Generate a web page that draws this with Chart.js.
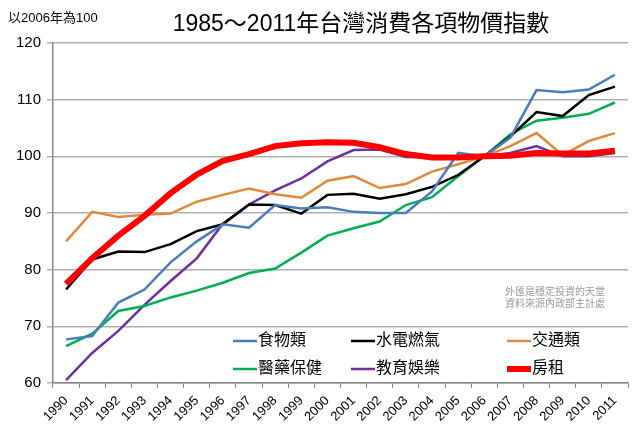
<!DOCTYPE html>
<html>
<head>
<meta charset="utf-8">
<script src="https://cdn.jsdelivr.net/npm/chart.js@4.4.1/dist/chart.umd.min.js"></script>
<style>
  html, body { margin: 0; padding: 0; background: #fff; }
  #wrap { position: relative; width: 640px; height: 429px; }
</style>
</head>
<body>
<div id="wrap"><canvas id="c" width="640" height="429"></canvas></div>
<script>
const years = ['1990','1991','1992','1993','1994','1995','1996','1997','1998','1999','2000',
    '2001','2002','2003','2004','2005','2006','2007','2008','2009','2010','2011'];

const food = [67.7, 68.3, 74.2, 76.5, 81.3, 85.0, 88.0, 87.4, 91.4, 90.8, 91.0,
    90.2, 90.0, 90.0, 93.8, 100.6, 100.0, 103.3, 111.7, 111.3, 111.8, 114.4];
const utilities = [76.5, 81.8, 83.2, 83.1, 84.5, 86.8, 88.0, 91.5, 91.4, 89.9, 93.2,
    93.4, 92.5, 93.3, 94.6, 96.7, 100.0, 103.5, 107.8, 107.1, 110.8, 112.3];
const transport = [85.0, 90.2, 89.3, 89.7, 89.9, 92.0, 93.2, 94.3, 93.3, 92.7, 95.7,
    96.5, 94.4, 95.1, 97.3, 98.6, 100.0, 101.8, 104.1, 100.2, 102.7, 104.1];
const medical = [66.5, 68.7, 72.7, 73.6, 75.1, 76.3, 77.7, 79.4, 80.2, 83.0, 86.0,
    87.3, 88.5, 91.4, 92.8, 96.5, 100.0, 103.9, 106.3, 106.8, 107.5, 109.5];
const education = [60.5, 65.3, 69.2, 73.8, 78.0, 82.0, 88.1, 91.5, 94.0, 96.1, 99.1,
    101.1, 101.2, 99.9, 99.8, 99.8, 100.0, 100.6, 101.8, 100.0, 100.0, 100.6];
const rent = [77.5, 82.0, 86.0, 89.5, 93.5, 96.8, 99.2, 100.4, 101.8, 102.3, 102.5,
    102.4, 101.6, 100.4, 99.8, 99.8, 100.0, 100.1, 100.6, 100.5, 100.5, 101.0];

const seriesNames = ['食物類', '水電燃氣', '交通類', '醫藥保健', '教育娛樂', '房租'];
const seriesColors = ['#4A7EBB', '#000000', '#E3893A', '#00B050', '#7030A0', '#FF0000'];

const cjk = '"Liberation Sans", "Noto Sans CJK TC", sans-serif';

function makeSet(i, data, width, order) {
    return {
        label: seriesNames[i],
        data,
        borderColor: seriesColors[i],
        backgroundColor: seriesColors[i],
        borderWidth: width,
        pointRadius: 0,
        tension: 0,
        order,
    };
}

// title, unit note, watermark and the boxed legend inside the plot
const decorations = {
    id: 'decorations',
    afterDraw(chart) {
        const ctx = chart.ctx;
        ctx.save();
        ctx.fillStyle = '#000';
        ctx.textBaseline = 'middle';
        ctx.font = '13px ' + cjk;
        ctx.textAlign = 'left';
        ctx.fillText('以2006年為100', 8, 18);
        ctx.font = '23px ' + cjk;
        ctx.textAlign = 'center';
        ctx.fillText('1985～2011年台灣消費各項物價指數', 361, 25);

        ctx.fillStyle = '#9a9a9a';
        ctx.font = '10px ' + cjk;
        ctx.fillText('外匯是穩定投資的天堂', 555, 292);
        ctx.fillText('資料來源內政部主計處', 555, 304);

        const cols = [233, 351, 507];
        const rows = [341, 369];
        ctx.font = '16px ' + cjk;
        ctx.textAlign = 'left';
        seriesNames.forEach((name, i) => {
            const x = cols[i % 3];
            const y = rows[Math.floor(i / 3)];
            ctx.strokeStyle = seriesColors[i];
            ctx.lineWidth = i === 5 ? 6 : 2.5;
            ctx.beginPath();
            ctx.moveTo(x, y);
            ctx.lineTo(x + 24, y);
            ctx.stroke();
            ctx.fillStyle = '#000';
            ctx.fillText(name, x + 25, y);
        });
        ctx.restore();
    },
};

new Chart(document.getElementById('c'), {
    type: 'line',
    data: {
        labels: years,
        datasets: [
            makeSet(0, food, 2.5, 1),
            makeSet(1, utilities, 2.5, 1),
            makeSet(2, transport, 2.5, 1),
            makeSet(3, medical, 2.5, 1),
            makeSet(4, education, 2.5, 1),
            makeSet(5, rent, 6, 0),
        ],
    },
    options: {
        responsive: false,
        animation: false,
        devicePixelRatio: 1,
        layout: { padding: { top: 43, right: 12, left: 0, bottom: 0 } },
        plugins: {
            legend: { display: false },
            tooltip: { enabled: false },
        },
        scales: {
            x: {
                offset: true,
                grid: {
                    offset: true,
                    drawOnChartArea: false,
                    color: '#888',
                    tickLength: 5,
                },
                border: { color: '#888', width: 1.5 },
                ticks: {
                    color: '#000',
                    maxRotation: 45,
                    minRotation: 45,
                    autoSkip: false,
                    padding: 5,
                    font: { family: 'Liberation Sans', size: 13 },
                },
                afterFit(s) { s.height = 46; },
            },
            y: {
                min: 60,
                max: 120,
                ticks: {
                    stepSize: 10,
                    color: '#000',
                    padding: 6,
                    font: { family: 'Liberation Sans', size: 15 },
                },
                grid: { color: '#b0b0b0', lineWidth: 1.5, tickLength: 6 },
                border: { color: '#888', width: 1.5 },
                afterFit(s) { s.width = 53; },
            },
        },
    },
    plugins: [decorations],
});
</script>
</body>
</html>
